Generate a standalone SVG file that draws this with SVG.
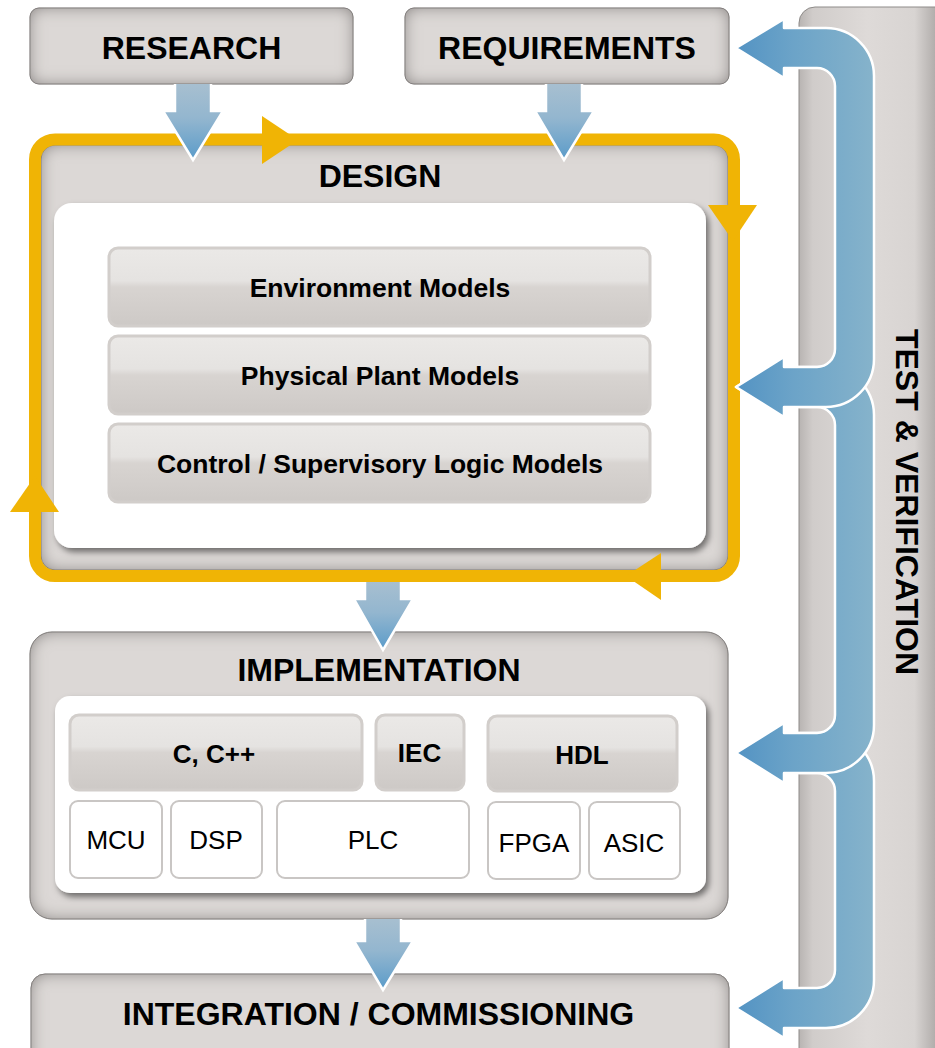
<svg xmlns="http://www.w3.org/2000/svg" width="935" height="1048" viewBox="0 0 935 1048">
<defs>
<style>
text{font-family:"Liberation Sans",Arial,Helvetica,sans-serif;fill:#000;text-anchor:middle}
.title{font-size:32px;font-weight:bold}
.model{font-size:26.5px;font-weight:bold}
.lang{font-size:26px;font-weight:bold}
.hw{font-size:26px}
.gbox{fill:#dcd8d6;stroke:#8e8b89;stroke-width:1;filter:url(#inset)}
.panel{fill:#fff;filter:url(#shadow)}
.gloss{fill:url(#glossG);stroke:#d2cecb;stroke-width:3}
.hwbox{fill:#fff;stroke:#c9c6c4;stroke-width:2}
.down{fill:url(#downG);stroke:#fff;stroke-width:2.5;stroke-linejoin:miter}
.tube{fill:url(#tubeG);stroke:#fff;stroke-width:2.5;stroke-linejoin:round}
.orange{fill:#f0b405}
</style>
<filter id="inset" x="-20%" y="-30%" width="140%" height="160%">
<feFlood flood-color="#7a7674" flood-opacity="1" result="f"/>
<feComposite in="f" in2="SourceAlpha" operator="out" result="o"/>
<feGaussianBlur in="o" stdDeviation="8" result="b"/>
<feComposite in="b" in2="SourceAlpha" operator="in" result="s"/>
<feMerge><feMergeNode in="SourceGraphic"/><feMergeNode in="s"/></feMerge>
</filter>
<filter id="shadow" x="-10%" y="-10%" width="125%" height="130%">
<feDropShadow dx="3" dy="4" stdDeviation="3" flood-color="#000" flood-opacity="0.5"/>
</filter>
<linearGradient id="glossG" x1="0" y1="0" x2="0" y2="1">
<stop offset="0" stop-color="#ebe9e7"/>
<stop offset="0.42" stop-color="#e5e3e1"/>
<stop offset="0.5" stop-color="#d8d4d1"/>
<stop offset="1" stop-color="#cdc9c6"/>
</linearGradient>
<linearGradient id="downG" x1="0" y1="0" x2="0" y2="1">
<stop offset="0" stop-color="#a7bfd0"/>
<stop offset="0.45" stop-color="#93b6cf"/>
<stop offset="1" stop-color="#5a9bc9"/>
</linearGradient>
<linearGradient id="tubeG" gradientUnits="userSpaceOnUse" x1="736" y1="0" x2="874" y2="0">
<stop offset="0" stop-color="#5393c3"/>
<stop offset="0.4" stop-color="#6ba3c8"/>
<stop offset="1" stop-color="#86b3cb"/>
</linearGradient>
<linearGradient id="barG" gradientUnits="userSpaceOnUse" x1="799" y1="0" x2="935" y2="0">
<stop offset="0" stop-color="#b8b4b2"/>
<stop offset="0.1" stop-color="#d0ccca"/>
<stop offset="0.5" stop-color="#dedad8"/>
<stop offset="0.85" stop-color="#d8d4d2"/>
<stop offset="1" stop-color="#b2aeac"/>
</linearGradient>
</defs>

<g id="test-verification">
<rect x="799" y="7" width="170" height="1070" rx="16" fill="url(#barG)" stroke="#8e8b89" stroke-width="1"/>
<text class="title" transform="translate(896,502) rotate(90)">TEST &amp; VERIFICATION</text>
</g>

<g id="research">
<rect class="gbox" x="30" y="8" width="323" height="76" rx="9"/>
<text class="title" x="191.5" y="59">RESEARCH</text>
</g>

<g id="requirements">
<rect class="gbox" x="405" y="8" width="324" height="76" rx="9"/>
<text class="title" x="567" y="59">REQUIREMENTS</text>
</g>

<g id="design">
<rect class="gbox" x="41" y="145" width="687" height="425" rx="14" stroke="none"/>
<text class="title" x="380" y="187">DESIGN</text>
<rect class="panel" x="54" y="203" width="652" height="345" rx="18"/>
</g>

<g id="environment-models">
<rect class="gloss" x="109" y="248" width="541" height="78" rx="9"/>
<text class="model" x="380" y="297">Environment Models</text>
</g>
<g id="physical-plant-models">
<rect class="gloss" x="109" y="336" width="541" height="78" rx="9"/>
<text class="model" x="380" y="385">Physical Plant Models</text>
</g>
<g id="control-models">
<rect class="gloss" x="109" y="424" width="541" height="78" rx="9"/>
<text class="model" x="380" y="473">Control / Supervisory Logic Models</text>
</g>

<g id="implementation">
<rect class="gbox" x="30" y="632" width="698" height="287" rx="22"/>
<text class="title" x="379" y="681">IMPLEMENTATION</text>
<rect class="panel" x="55" y="696" width="651" height="197" rx="15"/>
</g>

<g id="c-cpp">
<rect class="gloss" x="70" y="715" width="292" height="75" rx="9"/>
<text class="lang" x="214" y="763">C, C++</text>
</g>
<g id="iec">
<rect class="gloss" x="376" y="715" width="88" height="75" rx="9"/>
<text class="lang" x="419.5" y="762">IEC</text>
</g>
<g id="hdl">
<rect class="gloss" x="488" y="716" width="189" height="75" rx="9"/>
<text class="lang" x="582" y="764">HDL</text>
</g>
<g id="mcu">
<rect class="hwbox" x="70" y="801" width="92" height="77" rx="8"/>
<text class="hw" x="116" y="849">MCU</text>
</g>
<g id="dsp">
<rect class="hwbox" x="171" y="801" width="91" height="77" rx="8"/>
<text class="hw" x="216" y="849">DSP</text>
</g>
<g id="plc">
<rect class="hwbox" x="277" y="801" width="192" height="77" rx="8"/>
<text class="hw" x="373" y="849">PLC</text>
</g>
<g id="fpga">
<rect class="hwbox" x="488" y="802" width="92" height="77" rx="8"/>
<text class="hw" x="534" y="852">FPGA</text>
</g>
<g id="asic">
<rect class="hwbox" x="589" y="802" width="91" height="77" rx="8"/>
<text class="hw" x="634" y="852">ASIC</text>
</g>

<g id="integration">
<rect class="gbox" x="31" y="974" width="698" height="110" rx="14"/>
<text class="title" x="378.5" y="1025">INTEGRATION / COMMISSIONING</text>
</g>

<g id="connectors">
<g id="design-loop">
<rect x="35" y="139.5" width="699" height="436.5" rx="20" fill="none" stroke="#f0b405" stroke-width="12"/>
<polygon class="orange" points="262,116 262,164 298,140"/>
<polygon class="orange" points="708,205 757,205 733,241"/>
<polygon class="orange" points="10,512 59,512 35,476"/>
<polygon class="orange" points="661,553 661,600 626,576"/>
</g>
<path class="down" d="M175,84 L175,111 L163,111 L193,160 L223,111 L211,111 L211,84"/>
<path class="down" d="M546,84 L546,111 L535,111 L564,160 L594,111 L582,111 L582,84"/>
<path class="down" d="M365,582 L365,599 L354,599 L383,650 L413,599 L401,599 L401,582"/>
<path class="down" d="M365,919 L365,941 L354,941 L383,990 L413,941 L401,941 L401,919"/>
<path class="tube" d="M736,753 L784,723 L784,733 L826,733 A48,48 0 0 1 874,781 L874,980 A48,48 0 0 1 826,1028 L784,1028 L784,1038 L736,1008 L784,978 L784,988 L817,988 A18,18 0 0 0 835,970 L835,791 A18,18 0 0 0 817,773 L784,773 L784,783 Z"/>
<path class="tube" d="M736,387 L784,357 L784,367 L826,367 A48,48 0 0 1 874,415 L874,725 A48,48 0 0 1 826,773 L784,773 L784,783 L736,753 L784,723 L784,733 L817,733 A18,18 0 0 0 835,715 L835,425 A18,18 0 0 0 817,407 L784,407 L784,417 Z"/>
<path class="tube" d="M736,48 L784,19 L784,28 L826,28 A48,48 0 0 1 874,76 L874,359 A48,48 0 0 1 826,407 L784,407 L784,417 L736,387 L784,357 L784,367 L817,367 A18,18 0 0 0 835,349 L835,86 A18,18 0 0 0 817,68 L784,68 L784,78 Z"/>
</g>
</svg>
